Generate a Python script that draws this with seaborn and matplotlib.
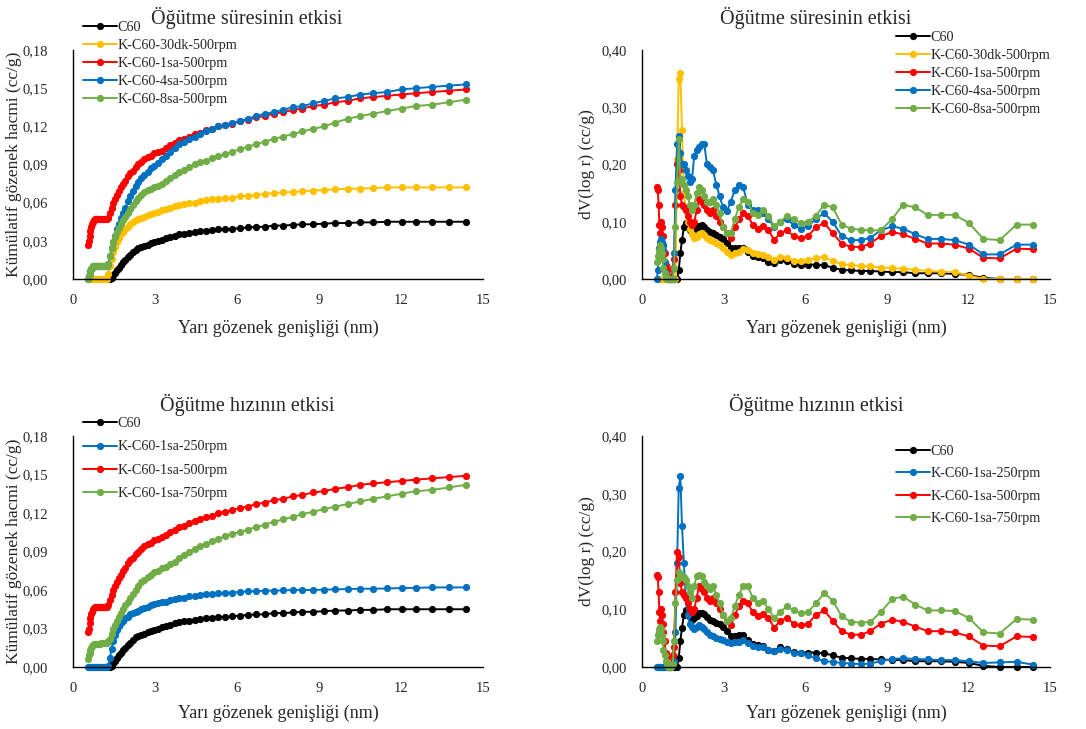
import numpy as np
import matplotlib
matplotlib.use('Agg')
import matplotlib.pyplot as plt
from matplotlib.ticker import FuncFormatter, MultipleLocator
import seaborn as sns

nan = np.nan

# pore half-width (nm)
x_nm = [0.55, 0.58, 0.61, 0.64, 0.67, 0.70, 0.73, 0.76, 0.79, 0.83,
        0.87, 0.91, 0.95, 0.99, 1.03, 1.08, 1.13, 1.18, 1.23, 1.29,
        1.35, 1.41, 1.47, 1.54, 1.61, 1.68, 1.76, 1.84, 1.92, 2.01,
        2.10, 2.19, 2.29, 2.39, 2.50, 2.61, 2.73, 2.85, 2.98, 3.12,
        3.26, 3.41, 3.56, 3.72, 3.89, 4.07, 4.25, 4.45, 4.65, 4.86,
        5.08, 5.32, 5.57, 5.83, 6.10, 6.39, 6.70, 7.01, 7.34, 7.68,
        8.05, 8.39, 8.78, 9.20, 9.60, 10.05, 10.50, 10.98, 11.49, 12.02,
        12.55, 13.15, 13.77, 14.39]

# cumulative pore volume (cc/g)
kum_c60 = [nan] * 20 + [
    0.000, 0.001, 0.003, 0.005, 0.007, 0.009, 0.011, 0.013, 0.015, 0.017,
    0.019, 0.021, 0.023, 0.024, 0.025, 0.026, 0.027, 0.028, 0.029, 0.030,
    0.031, 0.032, 0.033, 0.034, 0.035, 0.0355, 0.036, 0.037, 0.0375, 0.038,
    0.0385, 0.039, 0.039, 0.0395, 0.040, 0.0405, 0.041, 0.041, 0.042, 0.042,
    0.0425, 0.043, 0.043, 0.0435, 0.044, 0.044, 0.0445, 0.0445, 0.045, 0.045,
    0.045, 0.045, 0.045, 0.045]
kum_30dk = [nan, nan] + [0.0] * 17 + [
    0.004,
    0.010, 0.016, 0.021, 0.025, 0.029, 0.032, 0.035, 0.037, 0.039, 0.041,
    0.043, 0.045, 0.046, 0.047, 0.048, 0.049, 0.050, 0.051, 0.052, 0.053,
    0.054, 0.055, 0.056, 0.057, 0.058, 0.059, 0.0595, 0.060, 0.061, 0.062,
    0.0625, 0.063, 0.0635, 0.064, 0.065, 0.0655, 0.066, 0.067, 0.0675, 0.068,
    0.0685, 0.069, 0.0695, 0.070, 0.0705, 0.071, 0.071, 0.0715, 0.072, 0.072,
    0.072, 0.072, 0.072, 0.072]
kum_1sa500 = [
    0.027, 0.030, 0.034, 0.038, 0.041, 0.043, 0.045, 0.046, 0.047, 0.047,
    0.047, 0.047, 0.047, 0.047, 0.047, 0.047, 0.047, 0.047, 0.047, 0.048,
    0.052, 0.056, 0.060, 0.063, 0.066, 0.069, 0.072, 0.075, 0.077, 0.081,
    0.083, 0.085, 0.088, 0.090, 0.092, 0.094, 0.096, 0.097, 0.099, 0.100,
    0.101, 0.103, 0.105, 0.107, 0.109, 0.110, 0.112, 0.114, 0.115, 0.117,
    0.118, 0.120, 0.121, 0.122, 0.124, 0.125, 0.127, 0.128, 0.130, 0.131,
    0.133, 0.134, 0.136, 0.137, 0.139, 0.140, 0.142, 0.143, 0.144, 0.145,
    0.146, 0.147, 0.148, 0.149]
kum_4sa = [
    0.000, 0.002, 0.004, 0.006, 0.008, 0.009, 0.010, 0.010, 0.010, 0.010,
    0.010, 0.010, 0.010, 0.010, 0.010, 0.010, 0.010, 0.010, 0.010, 0.012,
    0.018, 0.024, 0.029, 0.034, 0.039, 0.043, 0.048, 0.052, 0.056, 0.061,
    0.065, 0.069, 0.073, 0.076, 0.079, 0.082, 0.084, 0.087, 0.089, 0.091,
    0.094, 0.097, 0.100, 0.103, 0.106, 0.108, 0.110, 0.112, 0.114, 0.116,
    0.118, 0.120, 0.121, 0.123, 0.124, 0.126, 0.128, 0.130, 0.131, 0.133,
    0.135, 0.136, 0.138, 0.140, 0.142, 0.143, 0.145, 0.146, 0.147, 0.149,
    0.150, 0.151, 0.152, 0.153]
kum_8sa = [
    0.000, 0.002, 0.004, 0.006, 0.008, 0.009, 0.010, 0.010, 0.010, 0.010,
    0.010, 0.010, 0.010, 0.010, 0.010, 0.010, 0.010, 0.010, 0.010, 0.012,
    0.018, 0.024, 0.029, 0.033, 0.037, 0.040, 0.043, 0.046, 0.049, 0.052,
    0.055, 0.058, 0.061, 0.064, 0.066, 0.068, 0.070, 0.071, 0.072, 0.073,
    0.075, 0.077, 0.079, 0.082, 0.084, 0.086, 0.088, 0.090, 0.092, 0.093,
    0.095, 0.097, 0.098, 0.100, 0.102, 0.104, 0.106, 0.108, 0.110, 0.112,
    0.114, 0.116, 0.118, 0.120, 0.123, 0.126, 0.128, 0.130, 0.132, 0.134,
    0.136, 0.137, 0.139, 0.141]
kum_250 = [0.0] * 19 + [
    0.001,
    0.007, 0.014, 0.020, 0.025, 0.029, 0.032, 0.034, 0.036, 0.038, 0.039,
    0.041, 0.042, 0.043, 0.044, 0.045, 0.046, 0.047, 0.048, 0.049, 0.050,
    0.0505, 0.051, 0.052, 0.053, 0.0535, 0.054, 0.055, 0.0555, 0.056, 0.0565,
    0.057, 0.0575, 0.058, 0.058, 0.0585, 0.059, 0.059, 0.0595, 0.0595, 0.0597,
    0.060, 0.060, 0.060, 0.0603, 0.0605, 0.0607, 0.061, 0.061, 0.0612, 0.0615,
    0.0617, 0.062, 0.062, 0.062]
kum_750 = [
    0.006, 0.009, 0.011, 0.013, 0.015, 0.016, 0.017, 0.018, 0.018, 0.018,
    0.018, 0.018, 0.018, 0.018, 0.019, 0.019, 0.019, 0.019, 0.019, 0.020,
    0.022, 0.026, 0.030, 0.033, 0.036, 0.039, 0.042, 0.045, 0.048, 0.051,
    0.054, 0.057, 0.060, 0.063, 0.066, 0.068, 0.070, 0.072, 0.074, 0.075,
    0.077, 0.078, 0.080, 0.082, 0.085, 0.087, 0.090, 0.092, 0.094, 0.096,
    0.098, 0.100, 0.102, 0.104, 0.105, 0.107, 0.109, 0.111, 0.113, 0.115,
    0.117, 0.119, 0.121, 0.123, 0.125, 0.127, 0.129, 0.131, 0.133, 0.135,
    0.137, 0.138, 0.140, 0.142]

# dV(log r) (cc/g)
dv_c60 = [nan] * 16 + [
    0.0, 0.0, 0.0, 0.0,
    0.015, 0.045, 0.068, 0.090, 0.098, 0.092, 0.086, 0.082, 0.085, 0.089,
    0.093, 0.094, 0.091, 0.086, 0.082, 0.080, 0.077, 0.074, 0.070, 0.063,
    0.054, 0.054, 0.055, 0.055, 0.047, 0.040, 0.038, 0.036, 0.030, 0.028,
    0.034, 0.031, 0.026, 0.025, 0.025, 0.025, 0.024, 0.020, 0.016, 0.015,
    0.014, 0.014, 0.013, 0.012, 0.012, 0.010, 0.010, 0.010, 0.009, 0.007,
    0.002, 0.000, 0.000, 0.000]
dv_30dk = [nan, nan] + [0.0] * 17 + [
    0.210,
    0.350, 0.360, 0.260, 0.150, 0.120, 0.100, 0.088, 0.078, 0.072, 0.074,
    0.078, 0.080, 0.077, 0.072, 0.068, 0.066, 0.063, 0.060, 0.055, 0.048,
    0.042, 0.045, 0.048, 0.052, 0.050, 0.046, 0.044, 0.042, 0.038, 0.034,
    0.038, 0.037, 0.032, 0.032, 0.033, 0.037, 0.038, 0.032, 0.026, 0.024,
    0.023, 0.022, 0.020, 0.019, 0.018, 0.016, 0.014, 0.013, 0.012, 0.006,
    0.000, 0.000, 0.000, 0.000]
dv_1sa500 = [
    0.160, 0.155, 0.130, 0.095, 0.080, 0.100, 0.090, 0.075, 0.060, 0.045,
    0.025, 0.015, 0.005, 0.000, 0.000, 0.000, 0.020, 0.035, 0.130, 0.200,
    0.190, 0.145, 0.130, 0.125, 0.120, 0.110, 0.100, 0.095, 0.100, 0.120,
    0.140, 0.135, 0.130, 0.120, 0.115, 0.120, 0.110, 0.100, 0.090, 0.080,
    0.072, 0.090, 0.105, 0.115, 0.110, 0.095, 0.088, 0.092, 0.085, 0.068,
    0.080, 0.085, 0.075, 0.072, 0.075, 0.090, 0.098, 0.080, 0.062, 0.056,
    0.056, 0.062, 0.075, 0.082, 0.078, 0.070, 0.062, 0.062, 0.060, 0.053,
    0.037, 0.036, 0.053, 0.052]
dv_4sa = [
    0.000, 0.015, 0.040, 0.055, 0.065, 0.070, 0.065, 0.060, 0.050, 0.030,
    0.010, 0.000, 0.000, 0.000, 0.000, 0.000, 0.000, 0.045, 0.155, 0.235,
    0.250, 0.220, 0.200, 0.200, 0.190, 0.180, 0.170, 0.175, 0.215, 0.225,
    0.230, 0.235, 0.235, 0.200, 0.195, 0.190, 0.165, 0.145, 0.125, 0.118,
    0.135, 0.155, 0.165, 0.160, 0.130, 0.120, 0.120, 0.115, 0.105, 0.090,
    0.100, 0.105, 0.095, 0.088, 0.092, 0.105, 0.115, 0.100, 0.075, 0.068,
    0.068, 0.072, 0.085, 0.092, 0.088, 0.078, 0.070, 0.070, 0.068, 0.060,
    0.043, 0.043, 0.060, 0.060]
dv_8sa = [
    0.030, 0.040, 0.045, 0.050, 0.060, 0.055, 0.045, 0.035, 0.020, 0.010,
    0.005, 0.000, 0.000, 0.000, 0.000, 0.000, 0.000, 0.020, 0.090, 0.170,
    0.245, 0.170, 0.175, 0.165, 0.155, 0.145, 0.130, 0.120, 0.130, 0.150,
    0.160, 0.155, 0.145, 0.135, 0.135, 0.140, 0.130, 0.115, 0.090, 0.080,
    0.080, 0.105, 0.125, 0.140, 0.135, 0.115, 0.112, 0.120, 0.110, 0.092,
    0.100, 0.110, 0.105, 0.098, 0.100, 0.110, 0.130, 0.125, 0.095, 0.088,
    0.086, 0.085, 0.085, 0.105, 0.130, 0.125, 0.112, 0.112, 0.112, 0.098,
    0.070, 0.068, 0.095, 0.095]
dv_250 = [
    0.000, 0.000, 0.000, 0.000, 0.000, 0.000, 0.000, 0.000, 0.000, 0.000,
    0.000, 0.000, 0.000, 0.000, 0.000, 0.000, 0.005, 0.010, 0.060, 0.180,
    0.310, 0.330, 0.245, 0.180, 0.120, 0.090, 0.075, 0.070, 0.065, 0.070,
    0.072, 0.070, 0.066, 0.060, 0.056, 0.053, 0.050, 0.048, 0.046, 0.043,
    0.042, 0.043, 0.044, 0.046, 0.042, 0.036, 0.035, 0.034, 0.030, 0.028,
    0.032, 0.030, 0.025, 0.024, 0.020, 0.015, 0.010, 0.009, 0.007, 0.006,
    0.005, 0.006, 0.010, 0.014, 0.015, 0.014, 0.013, 0.012, 0.012, 0.010,
    0.007, 0.008, 0.009, 0.004]
dv_750 = [
    0.045, 0.055, 0.060, 0.065, 0.070, 0.065, 0.055, 0.045, 0.030, 0.020,
    0.010, 0.005, 0.000, 0.000, 0.000, 0.000, 0.005, 0.045, 0.110, 0.150,
    0.165, 0.155, 0.158, 0.155, 0.150, 0.140, 0.130, 0.120, 0.140, 0.158,
    0.160, 0.158, 0.148, 0.140, 0.135, 0.140, 0.125, 0.110, 0.090, 0.080,
    0.085, 0.105, 0.125, 0.140, 0.140, 0.120, 0.110, 0.115, 0.100, 0.085,
    0.095, 0.105, 0.098, 0.093, 0.095, 0.110, 0.128, 0.115, 0.088, 0.078,
    0.077, 0.078, 0.095, 0.118, 0.122, 0.108, 0.098, 0.098, 0.097, 0.085,
    0.060, 0.058, 0.083, 0.082]

sure_etiket = ['C60', 'K-C60-30dk-500rpm', 'K-C60-1sa-500rpm', 'K-C60-4sa-500rpm', 'K-C60-8sa-500rpm']
sure_renk = ['#000000', '#FFC000', '#FF0000', '#0070C0', '#70AD47']
hiz_etiket = ['C60', 'K-C60-1sa-250rpm', 'K-C60-1sa-500rpm', 'K-C60-1sa-750rpm']
hiz_renk = ['#000000', '#0070C0', '#FF0000', '#70AD47']

sns.set_style('white')
plt.rcParams['font.family'] = ['Liberation Serif', 'DejaVu Serif']


# decimal comma like the original Excel chart
def virgul(v, pos):
    return f"{v:.2f}".replace('.', ',')


# Function to draw one panel
def ciz_panel(fig, ax, seriler, etiketler, renkler, ymax, ystep, ylabel,
              tick_pad, lbl_x, xlbl_y, leg_xy, leg_space):
    for y, et, r in zip(seriler, etiketler, renkler):
        sns.lineplot(x=x_nm, y=y, ax=ax, color=r, marker='o', markersize=5.2,
                     markeredgewidth=0, linewidth=1.4, label=et, clip_on=False)
    ax.set_xlim(0, 15)
    ax.set_ylim(0, ymax)
    ax.xaxis.set_major_locator(MultipleLocator(3))
    ax.yaxis.set_major_locator(MultipleLocator(ystep))
    ax.yaxis.set_major_formatter(FuncFormatter(virgul))
    ax.tick_params(axis='both', length=0, labelsize=10.5)
    ax.tick_params(axis='y', pad=tick_pad)
    ax.tick_params(axis='x', pad=11)
    for s in ['top', 'right']:
        ax.spines[s].set_visible(False)
    for s in ['left', 'bottom']:
        ax.spines[s].set_color('black')
        ax.spines[s].set_linewidth(1.0)
    ax.set_xlabel('Yarı gözenek genişliği (nm)', fontsize=13, va='center')
    ax.xaxis.set_label_coords(0.5, xlbl_y)
    ax.set_ylabel(ylabel, fontsize=12.5, va='center')
    ax.yaxis.set_label_coords(lbl_x, 0.5)
    ax.legend(loc='upper left', bbox_to_anchor=leg_xy, bbox_transform=fig.transFigure,
              frameon=False, fontsize=10.2, handlelength=2.4, handletextpad=0.05,
              labelspacing=leg_space, borderpad=0, borderaxespad=0)


W, H = 1086, 729
fig = plt.figure(figsize=(W / 100, H / 100), dpi=100)
ax1 = fig.add_axes([73 / W, 1 - 279 / H, 410 / W, 229 / H])
ax2 = fig.add_axes([642 / W, 1 - 279 / H, 408 / W, 229 / H])
ax3 = fig.add_axes([73 / W, 1 - 667 / H, 410 / W, 231 / H])
ax4 = fig.add_axes([642 / W, 1 - 667 / H, 408 / W, 231 / H])

ciz_panel(fig, ax1, [kum_c60, kum_30dk, kum_1sa500, kum_4sa, kum_8sa], sure_etiket, sure_renk,
          0.18, 0.03, 'Kümülatif gözenek hacmi (cc/g)', 18, -0.143, -0.215,
          (83 / W, 1 - 21 / H), 0.36)
ciz_panel(fig, ax2, [dv_c60, dv_30dk, dv_1sa500, dv_4sa, dv_8sa], sure_etiket, sure_renk,
          0.40, 0.10, 'dV(log r) (cc/g)', 11, -0.135, -0.215,
          (896 / W, 1 - 31 / H), 0.36)
ciz_panel(fig, ax3, [kum_c60, kum_250, kum_1sa500, kum_750], hiz_etiket, hiz_renk,
          0.18, 0.03, 'Kümülatif gözenek hacmi (cc/g)', 18, -0.143, -0.20,
          (83 / W, 1 - 417 / H), 0.74)
ciz_panel(fig, ax4, [dv_c60, dv_250, dv_1sa500, dv_750], hiz_etiket, hiz_renk,
          0.40, 0.10, 'dV(log r) (cc/g)', 11, -0.135, -0.20,
          (896 / W, 1 - 445 / H), 0.66)

fig.text(247 / W, 1 - 18 / H, 'Öğütme süresinin etkisi', fontsize=14.5, ha='center', va='center')
fig.text(816 / W, 1 - 18 / H, 'Öğütme süresinin etkisi', fontsize=14.5, ha='center', va='center')
fig.text(247 / W, 1 - 405 / H, 'Öğütme hızının etkisi', fontsize=14.5, ha='center', va='center')
fig.text(816 / W, 1 - 405 / H, 'Öğütme hızının etkisi', fontsize=14.5, ha='center', va='center')

fig.savefig('out.png', dpi=100)
